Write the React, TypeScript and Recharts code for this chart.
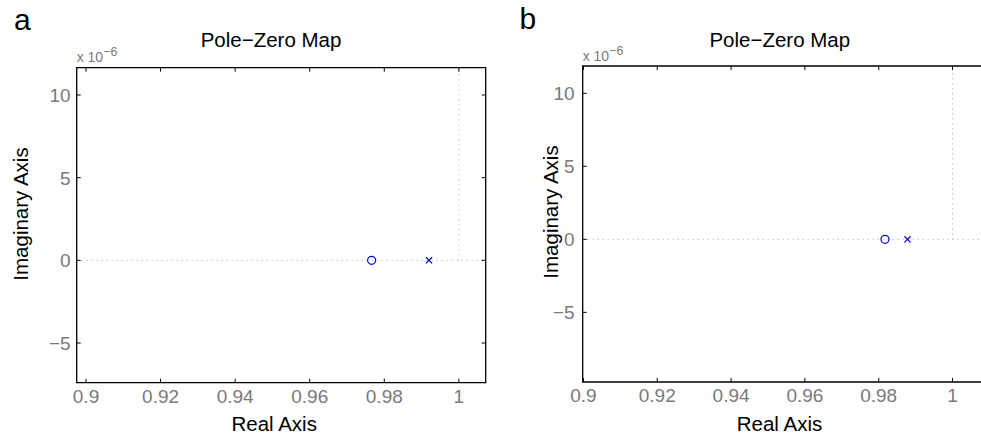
import React from 'react';
import { ScatterChart, Scatter, XAxis, YAxis, ReferenceLine, ReferenceArea } from 'recharts';

// shared axis ticks (imaginary axis in units of 1e-6)
const xTicks = [0.9, 0.92, 0.94, 0.96, 0.98, 1];
const yTicks = [-5, 0, 5, 10];

// panel a
const zeroReA = [0.9766];
const zeroImA = [0];
const poleReA = [0.992];
const poleImA = [0];
const xDomainA = [0.8975, 1.0072];
const yDomainA = [-7.4, 11.65];

// panel b
const zeroReB = [0.9817];
const zeroImB = [0];
const poleReB = [0.9878];
const poleImB = [0];
const xDomainB = [0.8998, 1.0088];
const yDomainB = [-9.77, 11.87];

const panelLetters = ['a', 'b'];
const titleText = 'Pole\u2212Zero Map';
const xLabelText = 'Real Axis';
const yLabelText = 'Imaginary Axis';
const multiplierBase = 'x 10';
const multiplierExp = '\u22126';

const FONT = '"Liberation Sans", Arial, Helvetica, sans-serif';
const TICK_GRAY = '#7a7a7a';
const BLUE = '#0000ff';
const GRID_GRAY = '#a8a8a8';
const CHART_H = 434;

const toPoints = (re: number[], im: number[]) => re.map((r, i) => ({ re: r, im: im[i] }));

const fmtX = (v: number) => String(v);
const fmtY = (v: number) => (v < 0 ? '\u2212' + Math.abs(v) : String(v));

const ZeroMark = (props: any) => {
  const { cx, cy } = props;
  return <circle cx={cx} cy={cy} r={4} fill="none" stroke={BLUE} strokeWidth={1.2} />;
};

const PoleMark = (props: any) => {
  const { cx, cy } = props;
  const s = 3.1;
  return (
    <g stroke={BLUE} strokeWidth={1.2}>
      <line x1={cx - s} y1={cy - s} x2={cx + s} y2={cy + s} />
      <line x1={cx - s} y1={cy + s} x2={cx + s} y2={cy - s} />
    </g>
  );
};

type Layout = {
  left: number;
  width: number;
  plot: { l: number; t: number; r: number; b: number };
  xGap: number;
  yGap: number;
  letterX: number;
  letterY: number;
  titleX: number;
  xLabelX: number;
  yLabelX: number;
  yLabelY: number;
  multY: number;
};

const layoutA: Layout = {
  left: 0,
  width: 490,
  plot: { l: 76.7, t: 67.7, r: 485.7, b: 382.7 },
  xGap: 20.5,
  yGap: 6,
  letterX: 14,
  letterY: 30,
  titleX: 271,
  xLabelX: 274.2,
  yLabelX: 27.5,
  yLabelY: 214,
  multY: 61.5,
};

const layoutB: Layout = {
  left: 490,
  width: 500,
  plot: { l: 92.7, t: 66, r: 495, b: 382 },
  xGap: 20,
  yGap: 8,
  letterX: 29.6,
  letterY: 29.3,
  titleX: 289.8,
  xLabelX: 289.5,
  yLabelX: 67.5,
  yLabelY: 212,
  multY: 61,
};

type PanelProps = {
  layout: Layout;
  letter: string;
  zeros: { re: number; im: number }[];
  poles: { re: number; im: number }[];
  xDomain: number[];
  yDomain: number[];
};

const Panel = ({ layout, letter, zeros, poles, xDomain, yDomain }: PanelProps) => {
  const { plot } = layout;
  const plotH = plot.b - plot.t;
  const plotW = plot.r - plot.l;
  const axisW = 60;
  const axisH = 30;

  const xTick = (p: any) => (
    <g>
      <line x1={p.x} y1={p.y} x2={p.x} y2={p.y - 4} stroke="#000" />
      <line x1={p.x} y1={p.y - plotH} x2={p.x} y2={p.y - plotH + 4} stroke="#000" />
      <text x={p.x} y={p.y + layout.xGap} textAnchor="middle" fill={TICK_GRAY} fontSize={19} fontFamily={FONT}>
        {fmtX(p.payload.value)}
      </text>
    </g>
  );

  const yTick = (p: any) => (
    <g>
      <line x1={p.x} y1={p.y} x2={p.x + 4} y2={p.y} stroke="#000" />
      <line x1={p.x + plotW} y1={p.y} x2={p.x + plotW - 4} y2={p.y} stroke="#000" />
      <text x={p.x - layout.yGap} y={p.y} dy="0.36em" textAnchor="end" fill={TICK_GRAY} fontSize={19} fontFamily={FONT}>
        {fmtY(p.payload.value)}
      </text>
    </g>
  );

  return (
    <div style={{ position: 'absolute', left: layout.left, top: 0, width: layout.width, height: CHART_H }}>
      <ScatterChart
        width={layout.width}
        height={CHART_H}
        margin={{
          top: plot.t,
          left: plot.l - axisW,
          right: layout.width - plot.r,
          bottom: CHART_H - plot.b - axisH,
        }}
      >
        <XAxis
          type="number"
          dataKey="re"
          domain={xDomain}
          ticks={xTicks}
          interval={0}
          allowDataOverflow
          axisLine={false}
          tickLine={false}
          tickSize={0}
          tickMargin={0}
          height={axisH}
          tick={xTick}
        />
        <YAxis
          type="number"
          dataKey="im"
          domain={yDomain}
          ticks={yTicks}
          interval={0}
          allowDataOverflow
          axisLine={false}
          tickLine={false}
          tickSize={0}
          tickMargin={0}
          width={axisW}
          tick={yTick}
        />
        <ReferenceLine y={0} stroke={GRID_GRAY} strokeDasharray="1 4" />
        <ReferenceLine
          segment={[
            { x: 1, y: 0 },
            { x: 1, y: yDomain[1] },
          ]}
          stroke={GRID_GRAY}
          strokeDasharray="1 4"
        />
        <ReferenceArea
          x1={xDomain[0]}
          x2={xDomain[1]}
          y1={yDomain[0]}
          y2={yDomain[1]}
          fill="none"
          stroke="#000"
          strokeWidth={1.3}
          ifOverflow="visible"
        />
        <Scatter data={zeros} shape={ZeroMark} isAnimationActive={false} />
        <Scatter data={poles} shape={PoleMark} isAnimationActive={false} />
      </ScatterChart>
      <svg
        width={layout.width}
        height={CHART_H}
        style={{ position: 'absolute', left: 0, top: 0, pointerEvents: 'none' }}
        fontFamily={FONT}
      >
        <text x={layout.letterX} y={layout.letterY} fontSize={30} fill="#000">
          {letter}
        </text>
        <text x={layout.titleX} y={47} fontSize={20.5} textAnchor="middle" fill="#000">
          {titleText}
        </text>
        <text x={plot.l} y={layout.multY} fontSize={14} fill={TICK_GRAY}>
          {multiplierBase}
          <tspan fontSize={12.5} dy={-6}>
            {multiplierExp}
          </tspan>
        </text>
        <text x={layout.xLabelX} y={431} fontSize={20.5} textAnchor="middle" fill="#000">
          {xLabelText}
        </text>
        <text
          x={layout.yLabelX}
          y={layout.yLabelY}
          fontSize={20.5}
          textAnchor="middle"
          fill="#000"
          transform={`rotate(-90 ${layout.yLabelX} ${layout.yLabelY})`}
        >
          {yLabelText}
        </text>
      </svg>
    </div>
  );
};

export default function App() {
  return (
    <div style={{ position: 'absolute', left: 0, top: 0, width: 981, height: CHART_H, overflow: 'hidden', background: '#fff' }}>
      <Panel
        layout={layoutA}
        letter={panelLetters[0]}
        zeros={toPoints(zeroReA, zeroImA)}
        poles={toPoints(poleReA, poleImA)}
        xDomain={xDomainA}
        yDomain={yDomainA}
      />
      <Panel
        layout={layoutB}
        letter={panelLetters[1]}
        zeros={toPoints(zeroReB, zeroImB)}
        poles={toPoints(poleReB, poleImB)}
        xDomain={xDomainB}
        yDomain={yDomainB}
      />
    </div>
  );
}
